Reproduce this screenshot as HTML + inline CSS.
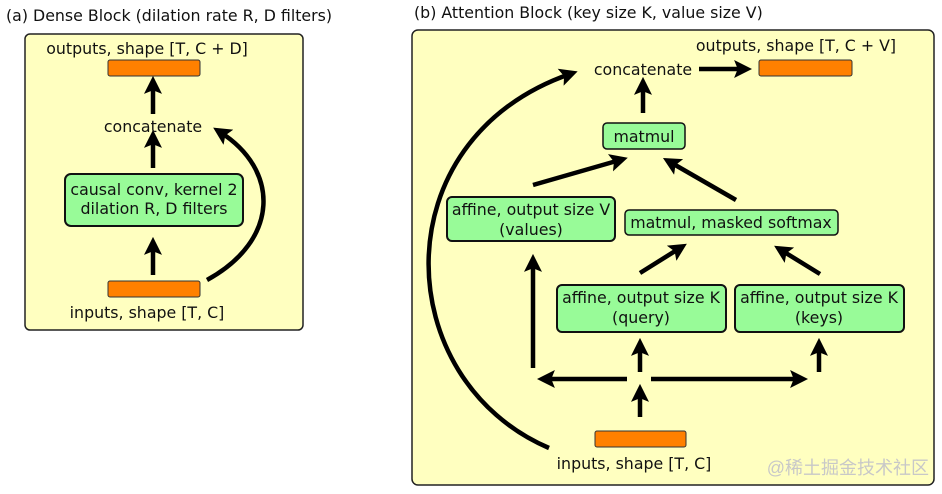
<!DOCTYPE html>
<html><head><style>
body{margin:0;background:#fff;}
svg{display:block;}
text{font-family:"DejaVu Sans","Liberation Sans",sans-serif;font-size:15.8px;fill:#111;}
</style></head><body>
<svg width="942" height="494" viewBox="0 0 942 494" xmlns="http://www.w3.org/2000/svg">
<defs>
<marker id="a" markerWidth="4" markerHeight="4" refX="2.2" refY="2" orient="auto" markerUnits="strokeWidth">
<path d="M0,0 L4,2 L0,4 L0.8,2 Z" fill="#000"/></marker>
</defs>
<text x="6" y="21">(a) Dense Block (dilation rate R, D filters)</text>
<rect x="25" y="34" width="278" height="296" rx="5" fill="#ffffc0" stroke="#222" stroke-width="1.5"/>
<text x="147" y="54" text-anchor="middle">outputs, shape [T, C + D]</text>
<rect x="108" y="60" width="92" height="16" rx="2" fill="#ff8000" stroke="#333"/>
<g stroke="#000" stroke-width="4.5" fill="none" marker-end="url(#a)">
<line x1="153" y1="114" x2="153" y2="84"/>
<line x1="153" y1="168" x2="153" y2="138"/>
<line x1="153" y1="275" x2="153" y2="245"/>
<path d="M207,280 C280,240 280,170 220,132"/>
</g>
<text x="153" y="132" text-anchor="middle">concatenate</text>
<rect x="65" y="174" width="178" height="52" rx="6" fill="#98fb98" stroke="#111" stroke-width="2"/>
<text x="154" y="195" text-anchor="middle">causal conv, kernel 2</text>
<text x="154" y="214" text-anchor="middle">dilation R, D filters</text>
<rect x="108" y="281" width="92" height="16" rx="2" fill="#ff8000" stroke="#333"/>
<text x="147" y="318" text-anchor="middle">inputs, shape [T, C]</text>

<text x="414" y="18">(b) Attention Block (key size K, value size V)</text>
<rect x="412" y="30" width="522" height="455" rx="6" fill="#ffffc0" stroke="#222" stroke-width="1.5"/>
<text x="796" y="51" text-anchor="middle">outputs, shape [T, C + V]</text>
<text x="643" y="75" text-anchor="middle">concatenate</text>
<rect x="759" y="60" width="93" height="16" rx="2" fill="#ff8000" stroke="#333"/>
<g stroke="#000" stroke-width="4.5" fill="none" marker-end="url(#a)">
<line x1="699" y1="69" x2="744" y2="69"/>
<line x1="643" y1="113" x2="643" y2="85"/>
<line x1="533" y1="185" x2="620" y2="160"/>
<line x1="736" y1="200" x2="670" y2="162"/>
<line x1="640" y1="273" x2="680" y2="248"/>
<line x1="820" y1="274" x2="781" y2="250"/>
<line x1="533" y1="368" x2="533" y2="262"/>
<line x1="640" y1="372" x2="640" y2="346"/>
<line x1="819" y1="372" x2="819" y2="346"/>
<line x1="627" y1="379" x2="545" y2="379"/>
<line x1="651" y1="379" x2="800" y2="379"/>
<line x1="640" y1="417" x2="640" y2="392"/>
<path d="M549,448 C390,380 380,140 570,74"/>
</g>
<rect x="603" y="123" width="82" height="26" rx="4" fill="#98fb98" stroke="#111" stroke-width="1.5"/>
<text x="644" y="142" text-anchor="middle">matmul</text>
<rect x="447" y="197" width="168" height="44" rx="5" fill="#98fb98" stroke="#111" stroke-width="2"/>
<text x="531" y="215" text-anchor="middle">affine, output size V</text>
<text x="531" y="235" text-anchor="middle">(values)</text>
<rect x="625" y="210" width="213" height="25" rx="4" fill="#98fb98" stroke="#111" stroke-width="1.5"/>
<text x="731" y="228" text-anchor="middle">matmul, masked softmax</text>
<rect x="557" y="285" width="169" height="47" rx="5" fill="#98fb98" stroke="#111" stroke-width="2"/>
<text x="641" y="303" text-anchor="middle">affine, output size K</text>
<text x="641" y="323" text-anchor="middle">(query)</text>
<rect x="735" y="285" width="169" height="47" rx="5" fill="#98fb98" stroke="#111" stroke-width="2"/>
<text x="819" y="303" text-anchor="middle">affine, output size K</text>
<text x="819" y="323" text-anchor="middle">(keys)</text>
<rect x="595" y="431" width="91" height="16" rx="2" fill="#ff8000" stroke="#333"/>
<text x="634" y="469" text-anchor="middle">inputs, shape [T, C]</text>
<text x="929" y="474" text-anchor="end" style="font-family:'Liberation Sans','Noto Sans CJK SC',sans-serif;font-size:18px;fill:#c8c8c8">@稀土掘金技术社区</text>
</svg>
</body></html>
